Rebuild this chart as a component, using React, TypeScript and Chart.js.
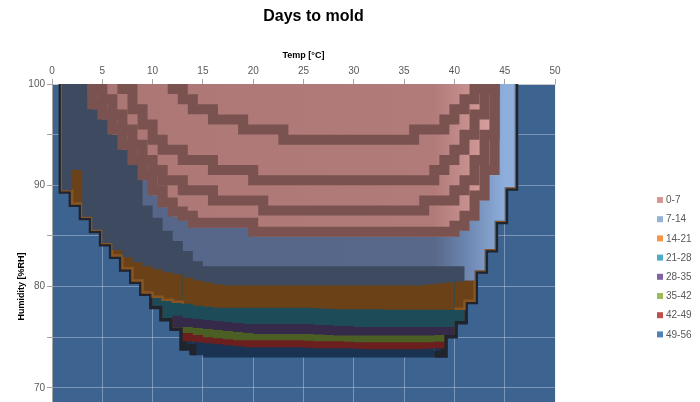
import { useEffect, useRef } from "react";
import { Chart, registerables } from "chart.js";

Chart.register(...registerables);

// A band that does not reach a temperature is given a limit above the 100 %RH edge.
const OFF = 101;

const TITLE = "Days to mold";
const X_TITLE = "Temp [°C]";
const Y_TITLE = "Humidity [%RH]";

const TEMPS = [
  0, 1, 2, 3, 4, 5, 6, 7, 8, 9, 10, 11, 12, 13, 14, 15, 16, 17, 18, 19, 20, 21, 22, 23, 24, 25,
  26, 27, 28, 29, 30, 31, 32, 33, 34, 35, 36, 37, 38, 39, 40, 41, 42, 43, 44, 45, 46, 47, 48, 49, 50,
];

const BAND_LABELS = ["0-7", "7-14", "14-21", "21-28", "28-35", "35-42", "42-49", "49-56"];
const LEGEND_COLORS = ["#d99694", "#95b3d7", "#f79646", "#4bacc6", "#8064a2", "#9bbb59", "#c0504d", "#4f81bd"];

// Lowest humidity (%RH) of each zone at each temperature (one value per degree, from 0 °C).
const RH_0_7 = [
  OFF, OFF, OFF, OFF, 97.5, 96.5, 95.0, 93.5, 92.0, 90.5,
  89.0, 87.8, 86.9, 86.5, 85.8, 85.8, 85.8, 85.8, 85.8, 85.8,
  84.9, 84.9, 84.9, 84.9, 84.9, 84.9, 84.9, 84.9, 84.9, 84.9,
  84.9, 84.9, 84.9, 84.9, 84.9, 84.9, 84.9, 84.9, 84.9, 84.9,
  85.5, 86.5, 88.5, 91.0, OFF, OFF, OFF, OFF, OFF, OFF, OFF,
];
const RH_7_14_LIGHT = [
  OFF, OFF, OFF, OFF, OFF, OFF, OFF, OFF, OFF, 88.0,
  86.8, 85.5, 84.5, 83.5, 82.5, 82.0, 82.0, 82.0, 82.0, 82.0,
  82.0, 82.0, 82.0, 82.0, 82.0, 82.0, 82.0, 82.0, 82.0, 82.0,
  82.0, 82.0, 82.0, 82.0, 82.0, 82.0, 82.0, 82.0, 82.0, 82.0,
  82.0, 80.6, 81.6, 83.7, 86.5, 89.8, OFF, OFF, OFF, OFF, OFF,
];
const RH_7_14 = [
  OFF, 89.5, 91.5, 86.9, 85.6, 84.3, 83.6, 82.9, 82.4, 82.0,
  81.7, 81.4, 81.2, 80.9, 80.6, 80.4, 80.2, 80.1, 80.1, 80.1,
  80.1, 80.1, 80.1, 80.1, 80.1, 80.1, 80.1, 80.1, 80.1, 80.1,
  80.1, 80.1, 80.1, 80.1, 80.1, 80.1, 80.1, 80.2, 80.3, 80.4,
  80.5, 80.6, 81.6, 83.7, 86.5, 89.8, OFF, OFF, OFF, OFF, OFF,
];
const RH_14_21 = [
  OFF, 89.5, 88.2, 86.9, 85.6, 84.3, 83.05, 81.8, 80.6, 79.4,
  79.0, 78.7, 78.5, 78.3, 78.1, 78.0, 77.9, 77.9, 77.9, 77.9,
  77.9, 77.9, 77.9, 77.9, 77.9, 77.9, 77.85, 77.8, 77.75, 77.75,
  77.75, 77.75, 77.75, 77.7, 77.7, 77.7, 77.7, 77.7, 77.7, 77.7,
  77.8, 78.6, 81.6, 83.7, 86.5, 89.8, OFF, OFF, OFF, OFF, OFF,
];
const RH_21_28 = [
  OFF, 89.5, 88.2, 86.9, 85.6, 84.3, 83.05, 81.8, 80.6, 79.4,
  78.1, 76.9, 77.1, 76.9, 76.8, 76.7, 76.6, 76.5, 76.4, 76.3,
  76.3, 76.3, 76.3, 76.3, 76.3, 76.3, 76.2, 76.2, 76.1, 76.1,
  76.0, 76.0, 76.0, 76.0, 76.0, 76.0, 76.0, 76.0, 76.0, 76.0,
  76.6, 78.6, 81.6, 83.7, 86.5, 89.8, OFF, OFF, OFF, OFF, OFF,
];
const RH_28_35 = [
  OFF, 89.5, 88.2, 86.9, 85.6, 84.3, 83.05, 81.8, 80.6, 79.4,
  78.1, 76.9, 75.95, 76.0, 75.9, 75.8, 75.7, 75.6, 75.5, 75.4,
  75.3, 75.3, 75.3, 75.3, 75.3, 75.3, 75.25, 75.2, 75.15, 75.15,
  75.15, 75.15, 75.15, 75.15, 75.15, 75.15, 75.15, 75.15, 75.2, 75.2,
  76.6, 78.6, 81.6, 83.7, 86.5, 89.8, OFF, OFF, OFF, OFF, OFF,
];
const RH_35_42 = [
  OFF, 89.5, 88.2, 86.9, 85.6, 84.3, 83.05, 81.8, 80.6, 79.4,
  78.1, 76.9, 75.95, 75.4, 75.2, 75.0, 74.9, 74.8, 74.7, 74.7,
  74.7, 74.7, 74.7, 74.7, 74.7, 74.65, 74.6, 74.6, 74.6, 74.55,
  74.5, 74.5, 74.5, 74.5, 74.5, 74.5, 74.5, 74.5, 74.55, 75.2,
  76.6, 78.6, 81.6, 83.7, 86.5, 89.8, OFF, OFF, OFF, OFF, OFF,
];
const RH_42_49 = [
  OFF, 89.5, 88.2, 86.9, 85.6, 84.3, 83.05, 81.8, 80.6, 79.4,
  78.1, 76.9, 75.95, 74.6, 74.5, 74.4, 74.3, 74.2, 74.1, 74.0,
  74.0, 74.0, 74.0, 74.0, 74.0, 73.95, 73.9, 73.9, 73.9, 73.9,
  73.85, 73.8, 73.8, 73.8, 73.8, 73.8, 73.8, 73.85, 73.9, 75.2,
  76.6, 78.6, 81.6, 83.7, 86.5, 89.8, OFF, OFF, OFF, OFF, OFF,
];
const RH_49_56 = [
  OFF, 89.5, 88.2, 86.9, 85.6, 84.3, 83.05, 81.8, 80.6, 79.4,
  78.1, 76.9, 75.95, 74.0, 73.2, 73.0, 73.0, 73.0, 73.0, 73.0,
  73.0, 73.0, 73.0, 73.0, 73.0, 73.0, 73.0, 73.0, 73.0, 73.0,
  73.0, 73.0, 73.0, 73.0, 73.0, 73.0, 73.0, 73.0, 73.3, 75.2,
  76.6, 78.6, 81.6, 83.7, 86.5, 89.8, OFF, OFF, OFF, OFF, OFF,
];

// Shaded steps of the surface inside the 0-7 zone (centre of each 1 %RH row).
const STEP_1 = [
  OFF, OFF, OFF, OFF, OFF, OFF, OFF, OFF, OFF, OFF,
  OFF, OFF, 99.5, 98.5, 97.5, 97.5, 96.5, 96.5, 96.5, 95.5,
  95.5, 95.5, 95.5, 94.5, 94.5, 94.5, 94.5, 94.5, 94.5, 94.5,
  94.5, 94.5, 94.5, 94.5, 94.5, 94.5, 95.5, 95.5, 95.5, 96.5,
  97.5, 98.5, 99.5, OFF, OFF, OFF, OFF, OFF, OFF, OFF, OFF,
];
const STEP_2 = [
  OFF, OFF, OFF, OFF, OFF, OFF, OFF, 99.5, 97.5, 96.0,
  94.5, 93.5, 93.5, 92.5, 92.5, 92.5, 91.5, 91.5, 91.5, 91.5,
  90.5, 90.5, 90.5, 90.5, 90.5, 90.5, 90.5, 90.5, 90.5, 90.5,
  90.5, 90.5, 90.5, 90.5, 90.5, 90.5, 90.5, 90.5, 91.5, 92.5,
  93.5, 95.0, 97.0, 99.5, OFF, OFF, OFF, OFF, OFF, OFF, OFF,
];
const STEP_3 = [
  OFF, OFF, OFF, OFF, 99.5, 98.5, 97.0, 95.5, 94.0, 92.5,
  91.5, 90.5, 90.5, 89.5, 89.5, 89.5, 88.5, 88.5, 88.5, 88.5,
  88.5, 87.5, 87.5, 87.5, 87.5, 87.5, 87.5, 87.5, 87.5, 87.5,
  87.5, 87.5, 87.5, 87.5, 87.5, 87.5, 87.5, 88.5, 88.5, 88.5,
  89.5, 90.5, 92.5, 95.0, OFF, OFF, OFF, OFF, OFF, OFF, OFF,
];
const STEP_4 = [
  OFF, OFF, OFF, OFF, 98.0, 97.0, 95.5, 94.0, 92.5, 91.0,
  89.5, 88.3, 87.4, 87.0, 86.3, 86.3, 86.3, 86.3, 86.3, 86.3,
  85.4, 85.4, 85.4, 85.4, 85.4, 85.4, 85.4, 85.4, 85.4, 85.4,
  85.4, 85.4, 85.4, 85.4, 85.4, 85.4, 85.4, 85.4, 85.4, 85.4,
  86.0, 87.0, 89.0, 91.5, OFF, OFF, OFF, OFF, OFF, OFF, OFF,
];

const FONT = '"Liberation Sans", Arial, sans-serif';
const PLOT_BG = "#3d6390";
const STEP_COLOR = "#7a5351";
const EDGE_DARK = "#20252d";
const EDGE_BROWN = "#8a5420";
const CLEAR = "rgba(0,0,0,0)";
const PINK_STOPS: [number, string][] = [[0, "#a87472"], [12, "#ad7876"], [38, "#b07b79"], [44, "#d9a19f"]];
const LIGHT_STOPS: [number, string][] = [[0, "#56668a"], [38, "#58688a"], [41, "#6b84ad"], [45, "#8eaedb"]];
const FILLS = ["#3d4a5f", "#6b4218", "#1d4b57", "#352a4a", "#4b5e23", "#6b1f1f", "#1b3352"];

function hGradient(chart: any, stops: [number, string][]) {
  const { ctx, chartArea, scales } = chart;
  if (!chartArea || !scales.x) return stops[stops.length - 1][1];
  const x0 = chartArea.left;
  const x1 = chartArea.right;
  const g = ctx.createLinearGradient(x0, 0, x1, 0);
  for (const [t, c] of stops) {
    const p = (scales.x.getPixelForValue(t) - x0) / (x1 - x0);
    g.addColorStop(Math.min(1, Math.max(0, p)), c);
  }
  return g;
}

const plotBg = {
  id: "plotBg",
  beforeDraw(chart: any) {
    const { ctx, chartArea } = chart;
    ctx.save();
    ctx.fillStyle = PLOT_BG;
    ctx.fillRect(chartArea.left, chartArea.top, chartArea.width, chartArea.height);
    ctx.restore();
  },
};

const titleAndLegend = {
  id: "titleAndLegend",
  afterDraw(chart: any) {
    const { ctx, chartArea } = chart;
    ctx.save();
    ctx.font = `bold 16px ${FONT}`;
    ctx.fillStyle = "#000000";
    ctx.textAlign = "center";
    ctx.textBaseline = "middle";
    ctx.fillText(TITLE, (chartArea.left + chartArea.right) / 2 + 10, 17);
    ctx.font = `10px ${FONT}`;
    ctx.textAlign = "left";
    const lx = chartArea.right + 102;
    BAND_LABELS.forEach((lab, i) => {
      const y = 200 + i * 19.2;
      ctx.fillStyle = LEGEND_COLORS[i];
      ctx.fillRect(lx, y - 3, 6, 6);
      ctx.fillStyle = "#595959";
      ctx.fillText(lab, lx + 9, y + 0.5);
    });
    ctx.restore();
  },
};

export default function App() {
  const ref = useRef<HTMLCanvasElement>(null);

  useEffect(() => {
    const canvas = ref.current;
    if (!canvas) return;
    const pts = (arr: number[]) => TEMPS.map((t, i) => ({ x: t, y: arr[i] }));
    const base = {
      pointRadius: 0,
      pointHoverRadius: 0,
      stepped: true,
      clip: 0,
      borderColor: CLEAR,
      borderWidth: 0,
      tension: 0,
    };
    const band = (label: string, arr: number[], bg: any, extra: any = {}) => ({
      ...base,
      label,
      data: pts(arr),
      fill: "end",
      backgroundColor: bg,
      ...extra,
    });
    const step = (arr: number[]) => ({
      ...base,
      label: "",
      data: pts(arr),
      fill: false,
      borderColor: STEP_COLOR,
      borderWidth: 10,
      borderCapStyle: "butt",
      borderJoinStyle: "miter",
    });

    const datasets: any[] = [
      step(STEP_1),
      step(STEP_2),
      step(STEP_3),
      step(STEP_4),
      band(BAND_LABELS[0], RH_0_7, (c: any) => hGradient(c.chart, PINK_STOPS)),
      band(BAND_LABELS[1] + " light", RH_7_14_LIGHT, (c: any) => hGradient(c.chart, LIGHT_STOPS)),
      band(BAND_LABELS[1], RH_7_14, FILLS[0]),
      band(BAND_LABELS[2], RH_14_21, FILLS[1], {
        borderWidth: 2.5,
        segment: {
          borderColor: (c: any) => (c.p0.parsed.x < 13 || c.p0.parsed.x >= 40 ? EDGE_BROWN : CLEAR),
        },
      }),
      band(BAND_LABELS[3], RH_21_28, FILLS[2]),
      band(BAND_LABELS[4], RH_28_35, FILLS[3]),
      band(BAND_LABELS[5], RH_35_42, FILLS[4]),
      band(BAND_LABELS[6], RH_42_49, FILLS[5]),
      band(BAND_LABELS[7], RH_49_56, FILLS[6], {
        borderWidth: 7,
        segment: {
          borderColor: (c: any) => (c.p0.parsed.x >= 14 && c.p0.parsed.x < 38 ? CLEAR : EDGE_DARK),
        },
      }),
    ];

    const chart = new Chart(canvas, {
      type: "line",
      data: { datasets },
      plugins: [plotBg, titleAndLegend],
      options: {
        animation: false,
        responsive: false,
        maintainAspectRatio: false,
        devicePixelRatio: 1,
        events: [],
        layout: { padding: { top: 40, right: 145, left: 0, bottom: 0 } },
        plugins: {
          legend: { display: false },
          title: { display: false },
          tooltip: { enabled: false },
        },
        scales: {
          x: {
            type: "linear",
            position: "top",
            min: 0,
            max: 50,
            afterFit: (s: any) => {
              s.height = 44;
            },
            ticks: { stepSize: 5, font: { family: FONT, size: 10 }, color: "#595959", padding: 2, maxRotation: 0 },
            grid: { color: "rgba(210,220,235,0.42)", tickLength: 5, tickColor: "#a6a6a6" },
            border: { color: "#c8c8c8" },
            title: {
              display: true,
              text: X_TITLE,
              font: { family: FONT, size: 9, weight: "bold" },
              color: "#000000",
              padding: { top: 10, bottom: 0 },
            },
          },
          y: {
            type: "linear",
            min: 60,
            max: 100,
            afterFit: (s: any) => {
              s.width = 52;
            },
            ticks: {
              stepSize: 5,
              font: { family: FONT, size: 10 },
              color: "#595959",
              padding: 2,
              callback: (v: any) => (Number(v) % 10 === 0 ? String(v) : ""),
            },
            grid: { color: "rgba(210,220,235,0.42)", tickLength: 5, tickColor: "#a6a6a6" },
            border: { color: "#a6a6a6" },
            title: {
              display: true,
              text: Y_TITLE,
              font: { family: FONT, size: 9, weight: "bold" },
              color: "#000000",
              padding: { top: 16, bottom: 0 },
            },
          },
        },
      } as any,
    });

    return () => chart.destroy();
  }, []);

  return (
    <div style={{ position: "absolute", left: 0, top: 0, width: 700, height: 402, overflow: "hidden", background: "#ffffff" }}>
      <canvas ref={ref} width={700} height={497} style={{ display: "block" }} />
    </div>
  );
}
